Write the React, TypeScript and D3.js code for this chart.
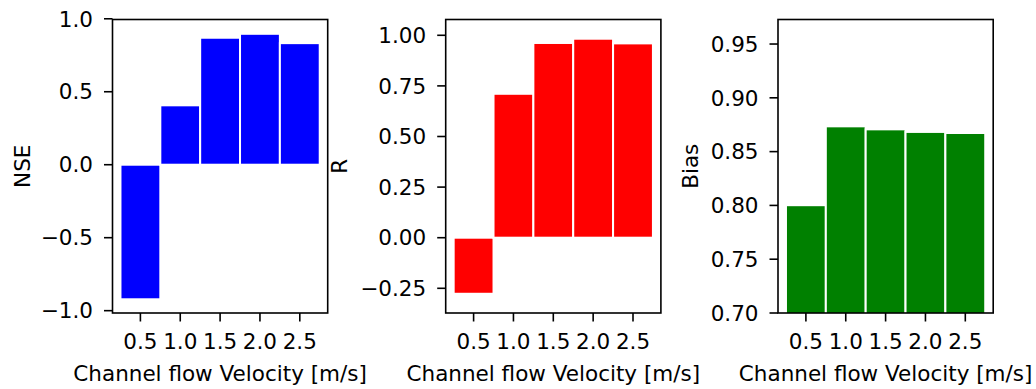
import React from "react";
import * as d3 from "d3";

const velocities = [0.5, 1.0, 1.5, 2.0, 2.5];
const xTickLabels = ["0.5", "1.0", "1.5", "2.0", "2.5"];

const nseValues = [-0.922, 0.407, 0.87, 0.897, 0.833];
const rValues = [-0.277, 0.711, 0.962, 0.983, 0.96];
const biasValues = [0.8002, 0.8735, 0.8707, 0.8683, 0.8673];

const nseTicks = [-1.0, -0.5, 0.0, 0.5, 1.0];
const rTicks = [-0.25, 0.0, 0.25, 0.5, 0.75, 1.0];
const biasTicks = [0.7, 0.75, 0.8, 0.85, 0.9, 0.95];

const xLabel = "Channel flow Velocity [m/s]";

const W = 1036;
const H = 389;
const FONT = "DejaVu Sans, sans-serif";
const FS = 21.5;
const TOP = 19.5;
const BOTTOM = 313;
const PW = 215.2;
const TICK = 8.5;

interface PanelDef {
  id: string;
  left: number;
  values: number[];
  ticks: number[];
  fmt: (v: number) => string;
  domain: [number, number];
  color: string;
  label: string;
  labelX: number;
}

const panels: PanelDef[] = [
  {
    id: "nse",
    left: 112.5,
    values: nseValues,
    ticks: nseTicks,
    fmt: d3.format(".1f"),
    domain: [-1.016, 0.995],
    color: "#0000ff",
    label: "NSE",
    labelX: 29.5,
  },
  {
    id: "r",
    left: 445.7,
    values: rValues,
    ticks: rTicks,
    fmt: d3.format(".2f"),
    domain: [-0.372, 1.078],
    color: "#ff0000",
    label: "R",
    labelX: 346.5,
  },
  {
    id: "bias",
    left: 778,
    values: biasValues,
    ticks: biasTicks,
    fmt: d3.format(".2f"),
    domain: [0.7, 0.9728],
    color: "#008000",
    label: "Bias",
    labelX: 698.3,
  },
];

const minusFmt = (s: string) => s.replace("-", "\u2212");

function Panel({ p }: { p: PanelDef }) {
  const x = d3.scaleLinear().domain([0.15, 2.85]).range([p.left, p.left + PW]);
  const y = d3.scaleLinear().domain(p.domain).range([BOTTOM, TOP]);
  const barW = 0.5;
  const clipId = `clip-${p.id}`;
  const cx = p.left + PW / 2;
  return (
    <g>
      <defs>
        <clipPath id={clipId}>
          <rect x={p.left} y={TOP} width={PW} height={BOTTOM - TOP} />
        </clipPath>
      </defs>
      <g clipPath={`url(#${clipId})`}>
        {p.values.map((v, i) => {
          const x0 = x(velocities[i] - barW / 2);
          const x1 = x(velocities[i] + barW / 2);
          const y0 = y(Math.min(0, v));
          const y1 = y(Math.max(0, v));
          return (
            <rect
              key={i}
              x={x0}
              y={y1}
              width={x1 - x0}
              height={y0 - y1}
              fill={p.color}
              stroke="#ffffff"
              strokeWidth={2}
            />
          );
        })}
      </g>
      <rect
        x={p.left}
        y={TOP}
        width={PW}
        height={BOTTOM - TOP}
        fill="none"
        stroke="#000"
        strokeWidth={1.6}
      />
      {p.ticks.map((t, i) => (
        <g key={i}>
          <line
            x1={p.left - TICK}
            x2={p.left}
            y1={y(t)}
            y2={y(t)}
            stroke="#000"
            strokeWidth={1.6}
          />
          <text
            x={p.left - TICK - 11}
            y={y(t)}
            dy="0.36em"
            textAnchor="end"
            fontFamily={FONT}
            fontSize={FS}
            fill="#000"
          >
            {minusFmt(p.fmt(t))}
          </text>
        </g>
      ))}
      {velocities.map((v, i) => (
        <g key={i}>
          <line
            x1={x(v)}
            x2={x(v)}
            y1={BOTTOM}
            y2={BOTTOM + TICK}
            stroke="#000"
            strokeWidth={1.6}
          />
          <text
            x={x(v)}
            y={348.5}
            textAnchor="middle"
            fontFamily={FONT}
            fontSize={FS}
            fill="#000"
          >
            {xTickLabels[i]}
          </text>
        </g>
      ))}
      <text
        x={cx}
        y={380.5}
        textAnchor="middle"
        fontFamily={FONT}
        fontSize={FS}
        fill="#000"
      >
        {xLabel}
      </text>
      <text
        transform={`translate(${p.labelX},${(TOP + BOTTOM) / 2}) rotate(-90)`}
        textAnchor="middle"
        fontFamily={FONT}
        fontSize={FS}
        fill="#000"
      >
        {p.label}
      </text>
    </g>
  );
}

export default function App() {
  return (
    <svg
      width={W}
      height={H}
      viewBox={`0 0 ${W} ${H}`}
      style={{ position: "absolute", left: 0, top: 0, background: "#fff" }}
    >
      <rect x={0} y={0} width={W} height={H} fill="#fff" />
      {panels.map((p) => (
        <Panel key={p.id} p={p} />
      ))}
    </svg>
  );
}
